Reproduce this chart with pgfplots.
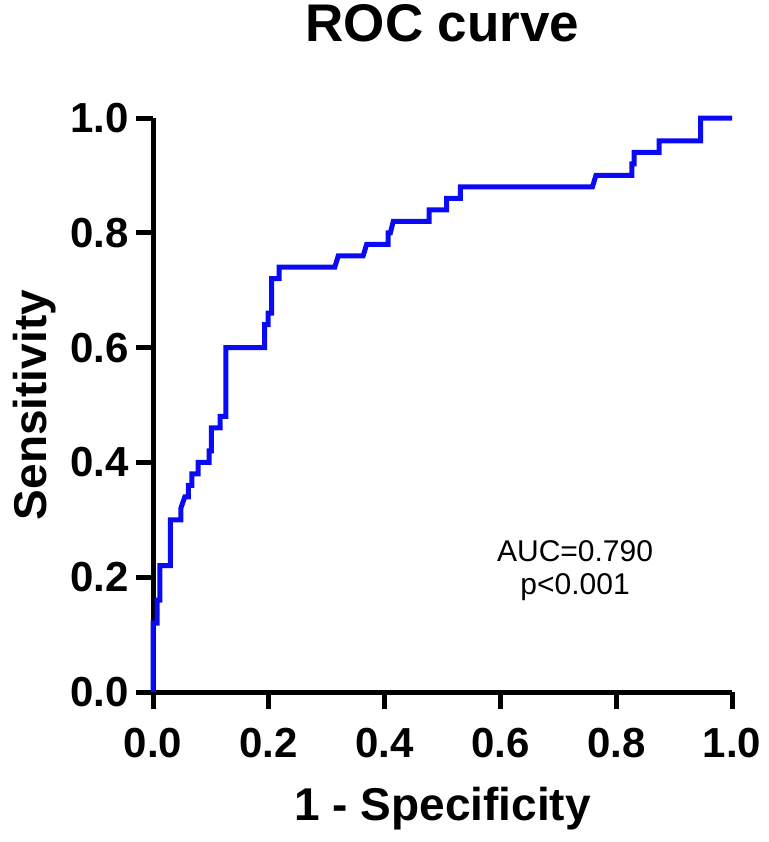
\documentclass[border=0pt]{standalone}
\usepackage{pgfplots}
\pgfplotsset{compat=1.18}
\usepackage{fontspec}
\setmainfont{Liberation Sans}
\definecolor{rocblue}{RGB}{10,10,245}
\begin{document}
\begin{tikzpicture}
\useasboundingbox (0,0) rectangle (384pt,421pt);
\begin{axis}[
  at={(76.5pt,75pt)}, anchor=south west,
  scale only axis, width=289.5pt, height=287pt,
  xmin=0, xmax=1, ymin=0, ymax=1,
  axis lines=left,
  axis line style={line width=2.5pt, -},
  every tick/.style={black, line width=2.5pt},
  tick align=outside, major tick length=8.5pt,
  xtick={0,0.2,0.4,0.6,0.8,1.0},
  ytick={0,0.2,0.4,0.6,0.8,1.0},
  minor tick num=0,
  /pgf/number format/assume math mode=true,
  /pgf/number format/.cd, fixed, fixed zerofill, precision=1, /pgfplots/.cd,
  ticklabel style={font=\fontsize{21}{25}\selectfont\bfseries},
  xticklabel style={yshift=-6pt},
  clip=false,
]
\addplot[rocblue, line width=2.5pt, line join=miter, line cap=butt] coordinates {
(0,0) (0,0.12) (0.007,0.12) (0.007,0.16) (0.012,0.16) (0.012,0.22)
(0.03,0.22) (0.03,0.30) (0.048,0.30) (0.048,0.32) (0.055,0.34) (0.061,0.34)
(0.061,0.36) (0.067,0.36) (0.067,0.38) (0.078,0.38) (0.078,0.40) (0.097,0.40)
(0.097,0.42) (0.101,0.42) (0.101,0.46) (0.116,0.46) (0.116,0.48) (0.126,0.48)
(0.126,0.60) (0.193,0.60) (0.193,0.64) (0.199,0.64) (0.199,0.66) (0.205,0.66)
(0.205,0.72) (0.218,0.72) (0.218,0.74) (0.314,0.74) (0.32,0.76) (0.363,0.76)
(0.369,0.78) (0.406,0.78) (0.406,0.80) (0.41,0.80) (0.415,0.82) (0.477,0.82)
(0.477,0.84) (0.507,0.84) (0.507,0.86) (0.531,0.86) (0.531,0.88) (0.759,0.88)
(0.765,0.90) (0.827,0.90) (0.827,0.92) (0.831,0.92) (0.831,0.94) (0.874,0.94)
(0.874,0.96) (0.946,0.96) (0.946,1.0) (1.0,1.0)
};
\node[anchor=base, inner sep=0pt, font=\fontsize{26.5}{30}\selectfont\bfseries] at (rel axis cs:0.5,1.1341) {ROC curve};
\node[anchor=base, font=\fontsize{23}{27}\selectfont\bfseries] at (rel axis cs:0.5,-0.223) {1 - Specificity};
\node[anchor=base, rotate=90, font=\fontsize{23}{27}\selectfont\bfseries] at (rel axis cs:-0.184,0.5) {Sensitivity};
\node[anchor=base, font=\fontsize{15}{18}\selectfont] at (rel axis cs:0.729,0.2265) {AUC=0.790};
\node[anchor=base, font=\fontsize{15}{18}\selectfont] at (rel axis cs:0.729,0.169) {p<0.001};
\end{axis}
\end{tikzpicture}
\end{document}
